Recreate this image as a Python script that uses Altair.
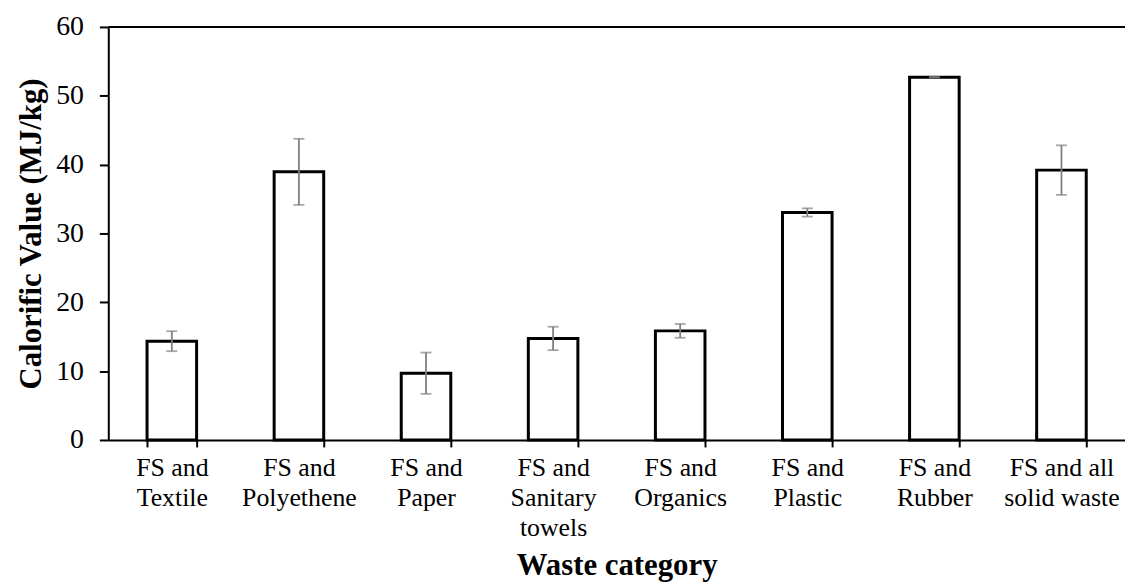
import altair as alt
import pandas as pd

categories = ["FS and\nTextile", "FS and\nPolyethene", "FS and\nPaper", "FS and\nSanitary\ntowels",
              "FS and\nOrganics", "FS and\nPlastic", "FS and\nRubber", "FS and all\nsolid waste"]
values = [14.35, 38.95, 9.7, 14.75, 15.85, 33.05, 52.7, 39.2]
errors = [1.45, 4.8, 3.0, 1.7, 1.0, 0.6, 0.05, 3.6]
y_ticks = [0, 10, 20, 30, 40, 50, 60]
y_max = 60

FONT = "Liberation Serif"
W, H = 1024, 416

df = pd.DataFrame({"cat": categories, "val": values, "err": errors})

xscale = alt.Scale(paddingInner=0.61, paddingOuter=0.305)
xaxis = alt.Axis(title="Waste category", labelExpr="split(datum.label, '\\n')",
                 labelAngle=0, labelFont=FONT, labelFontSize=26, labelColor="black",
                 labelLineHeight=30, labelPadding=8, labelBaseline="top",
                 tickBand="extent", tickSize=7, tickWidth=2, tickColor="black",
                 domainColor="black", domainWidth=2,
                 titleFont=FONT, titleFontSize=31, titleFontWeight="bold",
                 titleColor="black", titlePadding=10)

yscale = alt.Scale(domain=[0, y_max], nice=False)
yaxis = alt.Axis(title="Calorific Value (MJ/kg)", values=y_ticks, labelFont=FONT, labelFontSize=28,
                 labelColor="black", labelPadding=16, tickSize=9, tickWidth=2, tickColor="black",
                 domainColor="black", domainWidth=2, grid=False,
                 titleFont=FONT, titleFontSize=31, titleFontWeight="bold", titleColor="black",
                 titlePadding=8)


def xe(**kw):
    return alt.X("cat:N", sort=categories, scale=xscale, axis=xaxis, **kw)


def ye(field):
    return alt.Y(field, scale=yscale, axis=yaxis)


base = alt.Chart(df)

bars = base.mark_bar(fill="white", stroke="black", strokeWidth=3).encode(
    x=xe(), y=ye("val:Q"))

err = base.transform_calculate(lo="datum.val - datum.err", hi="datum.val + datum.err")

rule = err.mark_rule(color="#808080", strokeWidth=1.8).encode(
    x=xe(), y=ye("lo:Q"), y2="hi:Q")
cap_lo = err.mark_tick(color="#808080", thickness=1.8, size=11).encode(
    x=xe(), y=ye("lo:Q"))
cap_hi = err.mark_tick(color="#808080", thickness=1.8, size=11).encode(
    x=xe(), y=ye("hi:Q"))

inner_ticks = base.mark_rule(color="black", strokeWidth=2).encode(
    x=xe(bandPosition=0),
    y=alt.value(H - 8), y2=alt.value(H))

top_line = alt.Chart(pd.DataFrame({"v": [y_max]})).mark_rule(color="black", strokeWidth=2).encode(
    y=alt.Y("v:Q", scale=yscale, axis=yaxis), x=alt.value(0), x2=alt.value(W))

chart = alt.layer(bars, rule, cap_lo, cap_hi, inner_ticks, top_line).properties(
    width=W, height=H,
    padding={"left": 101, "top": 17, "right": 0, "bottom": 146},
    autosize=alt.AutoSizeParams(type="none"),
).configure_view(stroke=None)

chart.save("out.html", embed_options={"renderer": "svg", "actions": False})
